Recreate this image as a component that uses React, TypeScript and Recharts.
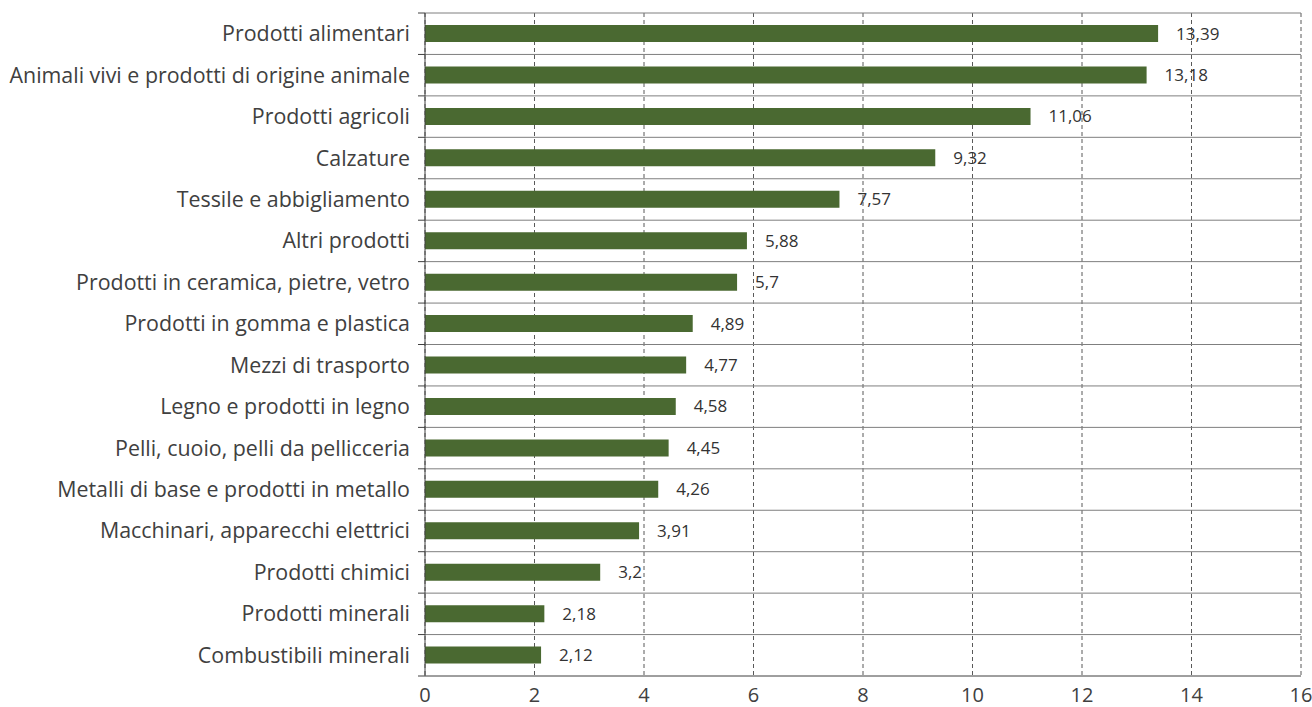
import { BarChart, Bar, XAxis, YAxis, CartesianGrid, LabelList } from "recharts";

const categories = [
  "Prodotti alimentari",
  "Animali vivi e prodotti di origine animale",
  "Prodotti agricoli",
  "Calzature",
  "Tessile e abbigliamento",
  "Altri prodotti",
  "Prodotti in ceramica, pietre, vetro",
  "Prodotti in gomma e plastica",
  "Mezzi di trasporto",
  "Legno e prodotti in legno",
  "Pelli, cuoio, pelli da pellicceria",
  "Metalli di base e prodotti in metallo",
  "Macchinari, apparecchi elettrici",
  "Prodotti chimici",
  "Prodotti minerali",
  "Combustibili minerali",
];

const values = [13.39, 13.18, 11.06, 9.32, 7.57, 5.88, 5.7, 4.89, 4.77, 4.58, 4.45, 4.26, 3.91, 3.2, 2.18, 2.12];

const xTicks = [0, 2, 4, 6, 8, 10, 12, 14, 16];

const data = categories.map((name, i) => ({ name, value: values[i] }));

const WIDTH = 1312;
const HEIGHT = 707;
const MARGIN = { top: 13, right: 11, bottom: 0, left: 0 };
const X_AXIS_HEIGHT = 31;
const PLOT_HEIGHT = HEIGHT - MARGIN.top - MARGIN.bottom - X_AXIS_HEIGHT;
const BAND = PLOT_HEIGHT / categories.length;

const FONT = "'Open Sans', sans-serif";
const TICK_SIZE = 7;
const TICK_MARGIN = 8;

function CategoryTick(props: any) {
  const { x, y, payload, index, visibleTicksCount } = props;
  const axisX = x + TICK_MARGIN + TICK_SIZE;
  const top = y - BAND / 2;
  const bottom = y + BAND / 2;
  return (
    <g>
      <line x1={axisX - TICK_SIZE} x2={axisX} y1={top} y2={top} stroke="#404040" strokeWidth={1} />
      {index === visibleTicksCount - 1 && (
        <line x1={axisX - TICK_SIZE} x2={axisX} y1={bottom} y2={bottom} stroke="#404040" strokeWidth={1} />
      )}
      <text x={x} y={y} dy="0.35em" textAnchor="end" fill="#404040" fontSize={21.4} fontFamily={FONT}>
        {payload.value}
      </text>
    </g>
  );
}

export default function App() {
  return (
    <div style={{ position: "absolute", left: 0, top: 0 }}>
      <BarChart width={WIDTH} height={HEIGHT} data={data} layout="vertical" margin={MARGIN}>
        <CartesianGrid horizontal={false} stroke="#595959" strokeDasharray="4 3" />
        <CartesianGrid
          vertical={false}
          stroke="#7f7f7f"
          horizontalCoordinatesGenerator={({ offset }: any) =>
            Array.from({ length: categories.length + 1 }, (_, i) => offset.top + (i * offset.height) / categories.length)
          }
        />
        <XAxis
          type="number"
          domain={[0, 16]}
          ticks={xTicks}
          interval={0}
          height={X_AXIS_HEIGHT}
          axisLine={{ stroke: "#7f7f7f" }}
          tickLine={false}
          tickMargin={6}
          tick={{ fontSize: 20, fill: "#404040", fontFamily: FONT }}
        />
        <YAxis
          type="category"
          dataKey="name"
          width={425}
          interval={0}
          axisLine={{ stroke: "#404040" }}
          tickLine={false}
          tickSize={TICK_SIZE}
          tickMargin={TICK_MARGIN}
          tick={<CategoryTick />}
        />
        <Bar dataKey="value" fill="#4a6931" barSize={17} isAnimationActive={false}>
          <LabelList
            dataKey="value"
            position="right"
            offset={18}
            formatter={(v: any) => String(v).replace(".", ",")}
            style={{ fontSize: 17, fill: "#333333", fontFamily: FONT }}
          />
        </Bar>
      </BarChart>
    </div>
  );
}
